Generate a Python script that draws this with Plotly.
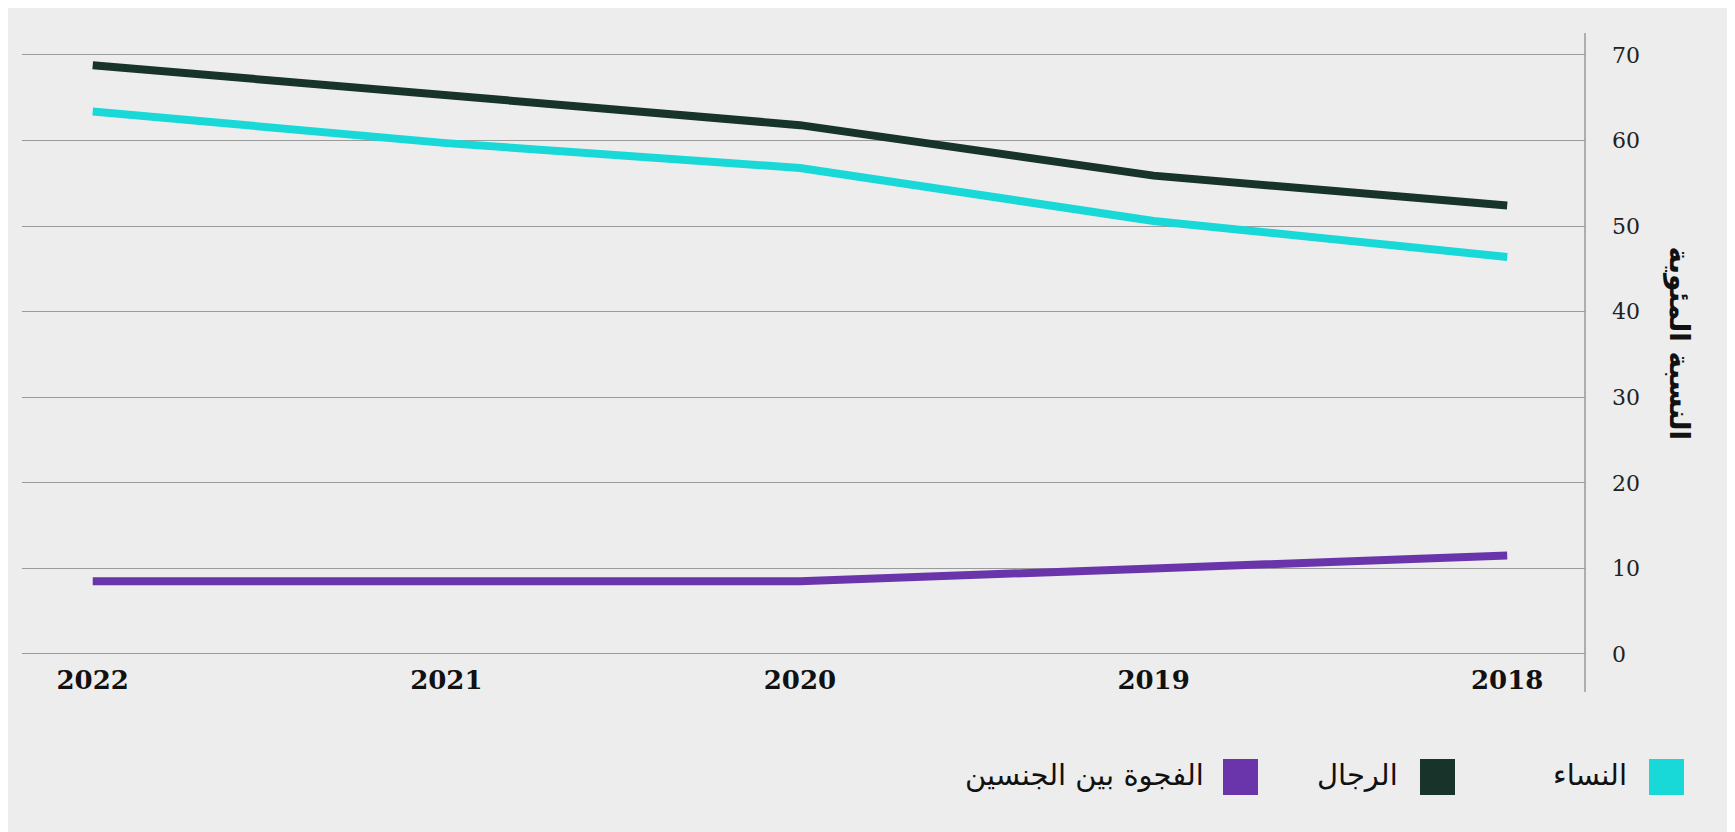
import plotly.graph_objects as go

years = [2022, 2021, 2020, 2019, 2018]
women = [63.4, 59.7, 56.8, 50.6, 46.4]
men = [68.8, 65.3, 61.8, 55.9, 52.4]
gap = [8.5, 8.5, 8.5, 10.0, 11.5]
series_names = ["النساء", "الرجال", "الفجوة بين الجنسين"]
series_colors = ["#19D8D8", "#17332A", "#6A35AB"]
y_ticks = [0, 10, 20, 30, 40, 50, 60, 70]
y_title = "النسبة المئوية"

W, H = 1735, 832
ML, MR, MT, MB = 14, 158, 25, 182
BG = "#EDEDED"
plot_w = W - ML - MR
plot_h = H - MT - MB

fig = go.Figure()
for name, vals, col in zip(series_names, [women, men, gap], series_colors):
    fig.add_trace(go.Scatter(x=years, y=vals, mode="lines", name=name,
                             line=dict(color=col, width=8), showlegend=False))

fig.update_layout(
    width=W, height=H,
    margin=dict(l=ML, r=MR, t=MT, b=MB),
    paper_bgcolor=BG, plot_bgcolor=BG,
    xaxis=dict(range=[2022.2, 2017.78], tickvals=years,
               ticktext=["<b>%d</b>" % y for y in years],
               showgrid=False, zeroline=False, showline=False, ticks="",
               tickfont=dict(family="DejaVu Serif", size=26, color="#111"),
               ticklabelstandoff=4),
    yaxis=dict(range=[-0.47, 72.57], side="right", tickvals=y_ticks,
               showgrid=True, gridcolor="#9a9a9a", gridwidth=1, zeroline=False,
               showline=False, ticks="",
               tickfont=dict(family="DejaVu Serif", size=22, color="#222"),
               ticklabelstandoff=26),
)

# vertical axis line on the right
fig.add_shape(type="line", xref="paper", yref="paper", x0=1, x1=1, y0=-34 / plot_h, y1=1,
              line=dict(color="#9a9a9a", width=1.5))

# y-axis title (rotated clockwise)
fig.add_annotation(text="<b>" + y_title + "</b>", xref="paper", yref="paper",
                   x=(1690 - ML) / plot_w, y=1 - (335 - MT) / plot_h,
                   textangle=90, showarrow=False,
                   font=dict(family="DejaVu Sans", size=28, color="#111"))

# custom RTL legend
sq_left = [1641, 1412, 1215]
text_right = [1621, 1392, 1198]
for name, col, sl, tr in zip(series_names, series_colors, sq_left, text_right):
    x0 = (sl - ML) / plot_w
    x1 = (sl + 35 - ML) / plot_w
    y0 = 1 - (787 - MT) / plot_h
    y1 = 1 - (751 - MT) / plot_h
    fig.add_shape(type="rect", xref="paper", yref="paper", x0=x0, x1=x1, y0=y0, y1=y1,
                  fillcolor=col, line=dict(width=0))
    fig.add_annotation(text=name, xref="paper", yref="paper",
                       x=(tr - ML) / plot_w, y=1 - (767 - MT) / plot_h,
                       xanchor="right", yanchor="middle", showarrow=False,
                       font=dict(family="DejaVu Sans", size=29, color="#111"))

fig.write_html("out.html")
